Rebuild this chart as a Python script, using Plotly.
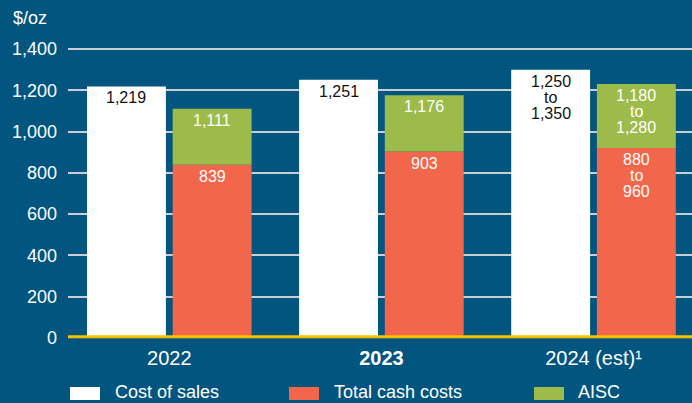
import plotly.graph_objects as go

# Unit cost data ($/oz); 2024 values are guidance ranges drawn at their midpoints
years = ["2022", "<b>2023</b>", "2024 (est)¹"]
cost_of_sales = [1219, 1251, 1300]
total_cash_costs = [839, 903, 920]
aisc = [1111, 1176, 1230]

cost_labels = ["1,219", "1,251", "1,250<br>to<br>1,350"]
cash_labels = ["839", "903", "880<br>to<br>960"]
aisc_labels = ["1,111", "1,176", "1,180<br>to<br>1,280"]

y_ticks = [0, 200, 400, 600, 800, 1000, 1200, 1400]

BG = "#02557e"
WHITE = "#ffffff"
RED = "#f2664b"
GREEN = "#9dbb4a"
GRID = "#c9ced3"
YELLOW = "#f5c400"
FONT = "Liberation Sans, Arial, sans-serif"

idx = list(range(len(years)))
off, bw = 0.202, 0.372
x_left = [i - off for i in idx]
x_right = [i + off for i in idx]

fig = go.Figure()

fig.add_trace(go.Bar(
    x=x_left, y=cost_of_sales, width=bw, name="Cost of sales",
    marker=dict(color=WHITE, line=dict(width=0)),
))
fig.add_trace(go.Bar(
    x=x_right, y=total_cash_costs, width=bw, name="Total cash costs",
    marker=dict(color=RED, line=dict(width=0)),
))
fig.add_trace(go.Bar(
    x=x_right, y=[a - c for a, c in zip(aisc, total_cash_costs)],
    base=total_cash_costs, width=bw, name="AISC",
    marker=dict(color=GREEN, line=dict(width=0)),
))

# plot area in pixels: x 68..692, y 48..338
L, R, T, B = 68, 0, 48, 65
W, H = 692, 403
pw, ph = W - L - R, H - T - B


def px(x):
    return (x - L) / pw


def py(y):
    return (H - B - y) / ph


shapes = [
    dict(type="line", xref="paper", yref="paper", x0=0, x1=1, y0=0.004, y1=0.004,
         line=dict(color=YELLOW, width=3), layer="above"),
]
annotations = [
    dict(text="$/oz", xref="paper", yref="paper", x=px(11), y=py(18),
         xanchor="left", yanchor="middle", showarrow=False,
         font=dict(color=WHITE, size=18, family=FONT)),
]

# value labels inside the top of each bar, one annotation per line
LINE_H, TOP_PAD = 16, 11.5
label_sets = [
    (x_left, cost_of_sales, cost_labels, "#111111"),
    (x_right, total_cash_costs, cash_labels, WHITE),
    (x_right, aisc, aisc_labels, WHITE),
]
for xs, tops, labels, color in label_sets:
    for x, top, lab in zip(xs, tops, labels):
        for k, line in enumerate(lab.split("<br>")):
            annotations.append(dict(
                text=line, x=x, y=top, xref="x", yref="y",
                xanchor="center", yanchor="middle",
                yshift=-(TOP_PAD + k * LINE_H), showarrow=False,
                font=dict(color=color, size=16, family=FONT)))

# legend row
legend_items = [("Cost of sales", WHITE, 70, 113),
                ("Total cash costs", RED, 289, 332),
                ("AISC", GREEN, 534, 576)]
for label, color, sx, tx in legend_items:
    shapes.append(dict(type="rect", xref="paper", yref="paper",
                       x0=px(sx), x1=px(sx + 30), y0=py(387), y1=py(400),
                       fillcolor=color, line=dict(width=0), layer="above"))
    annotations.append(dict(text=label, xref="paper", yref="paper",
                            x=px(tx), y=py(392), xanchor="left", yanchor="middle",
                            showarrow=False,
                            font=dict(color=WHITE, size=18, family=FONT)))

fig.update_layout(
    width=W, height=H,
    margin=dict(l=L, r=R, t=T, b=B, pad=0),
    paper_bgcolor=BG, plot_bgcolor=BG,
    barmode="overlay", showlegend=False,
    font=dict(family=FONT, color=WHITE),
    shapes=shapes, annotations=annotations,
    xaxis=dict(
        range=[-0.4776, 2.4644], tickvals=idx, ticktext=years,
        showgrid=False, zeroline=False, showline=False, ticks="",
        tickfont=dict(size=20, color=WHITE, family=FONT),
        ticklabelstandoff=6,
    ),
    yaxis=dict(
        range=[0, 1405], tickvals=y_ticks,
        ticktext=[f"{v:,}" for v in y_ticks],
        showgrid=True, gridcolor=GRID, gridwidth=2,
        zeroline=False, showline=False, ticks="",
        tickfont=dict(size=18, color=WHITE, family=FONT),
        ticklabelstandoff=10,
    ),
)

fig.write_html("out.html")
